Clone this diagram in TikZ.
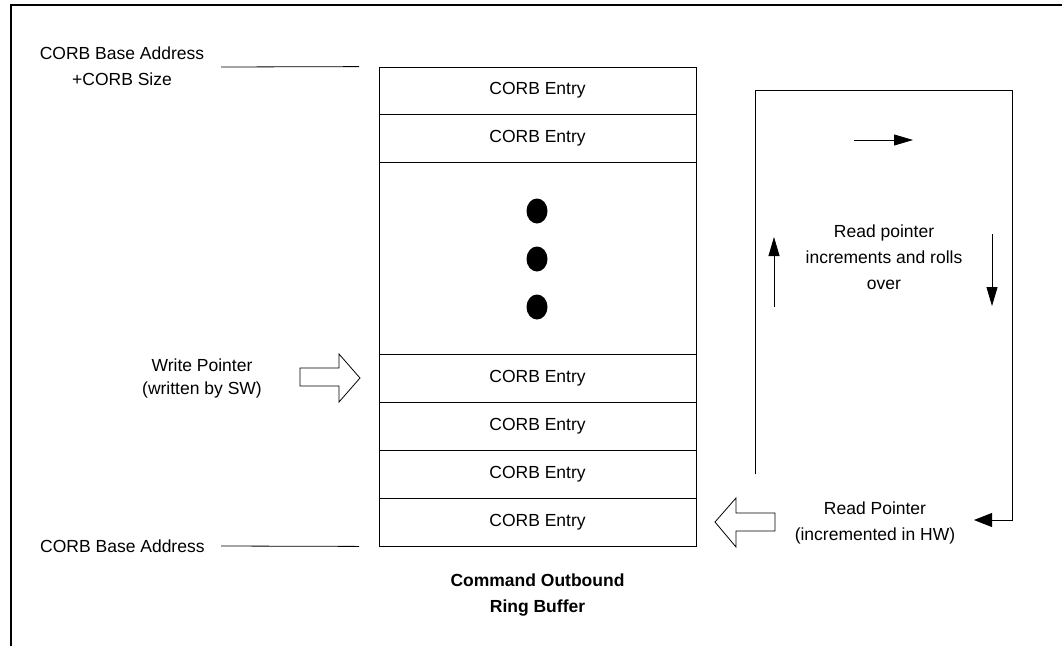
\documentclass[tikz,border=0pt]{standalone}
\usepackage{fontspec}
\setmainfont{Liberation Sans}
\usetikzlibrary{arrows.meta,shapes.geometric}
\begin{document}
\begin{tikzpicture}[x=1pt,y=-1pt,
  lbl/.style={font=\fontsize{17.5}{26}\selectfont, align=center, inner sep=0pt},
  entry/.style={draw, line width=0.8pt, minimum width=317pt, minimum height=48pt,
                inner sep=0pt, font=\fontsize{17.5}{20}\selectfont},
  thin/.style={line width=0.8pt},
  tip/.style={-{Triangle[length=19pt,width=11pt]}, line width=0.8pt},
  bigtip/.style={-{Triangle[length=18pt,width=14pt]}, line width=0.8pt},
  dot/.style={fill=black, ellipse, minimum width=21pt, minimum height=25pt, inner sep=0pt}]
\useasboundingbox (0,0) rectangle (1062,646);

% frame
\draw[line width=2pt] (11,646) -- (11,5) -- (1062,5);

% ring buffer
\node[entry, minimum height=47pt] (e1) at (537.5,90.5)  {CORB Entry};
\node[entry] (e2) at (537.5,138) {CORB Entry};
\node[entry, minimum height=192pt] (gap) at (537.5,258) {};
\node[entry] (e3) at (537.5,378) {CORB Entry};
\node[entry] (e4) at (537.5,426) {CORB Entry};
\node[entry] (e5) at (537.5,474) {CORB Entry};
\node[entry] (e6) at (537.5,522) {CORB Entry};

\node[dot] (d1) at (537,211) {};
\node[dot] (d2) at (537,259) {};
\node[dot] (d3) at (537,307) {};

\node[lbl, font=\bfseries\fontsize{17.5}{26}\selectfont] (title) at (537.5,595)
  {Command Outbound\\Ring Buffer};

% address labels
\node[lbl] (top) at (122,66) {CORB Base Address\\+CORB Size};
\coordinate (tl1) at (221,67);
\draw[thin] (tl1) -- (e1.north west -| 359,0);
\node[lbl, anchor=west] (base) at (40,546) {CORB Base Address};
\coordinate (bl1) at (221,546);
\draw[thin] (bl1) -- (e6.south west -| 359,0);

% write pointer
\node[lbl, font=\fontsize{17.5}{23}\selectfont] (wp) at (202,378) {Write Pointer\\(written by SW)};
\draw[thin] (300,368) -- (339,368) -- (339,354) -- (360,378) -- (339,402)
  -- (339,386) -- (300,386) -- cycle;

% read pointer
\node[lbl] (rp) at (875,523) {Read Pointer\\(incremented in HW)};
\draw[thin] (715,522) -- (736,498) -- (736,513) -- (775,513) -- (775,531)
  -- (736,531) -- (736,547) -- cycle;

% roll-over loop
\coordinate (l0) at (755,474);
\coordinate (l1) at (755,90);
\coordinate (l2) at (1012,90);
\coordinate (l3) at (1012,520);
\coordinate (l4) at (974,520);
\draw[bigtip] (l0) -- (l1) -- (l2) -- (l3) -- (l4);

\node[lbl] (roll) at (884,257) {Read pointer\\increments and rolls\\over};
\coordinate (ra0) at (854,140);
\coordinate (ra1) at (913,140);
\draw[tip] (ra0) -- (ra1);
\coordinate (ua0) at (774,307);
\coordinate (ua1) at (774,237);
\draw[tip] (ua0) -- (ua1);
\coordinate (da0) at (992,234);
\coordinate (da1) at (992,306);
\draw[tip] (da0) -- (da1);
\end{tikzpicture}
\end{document}
